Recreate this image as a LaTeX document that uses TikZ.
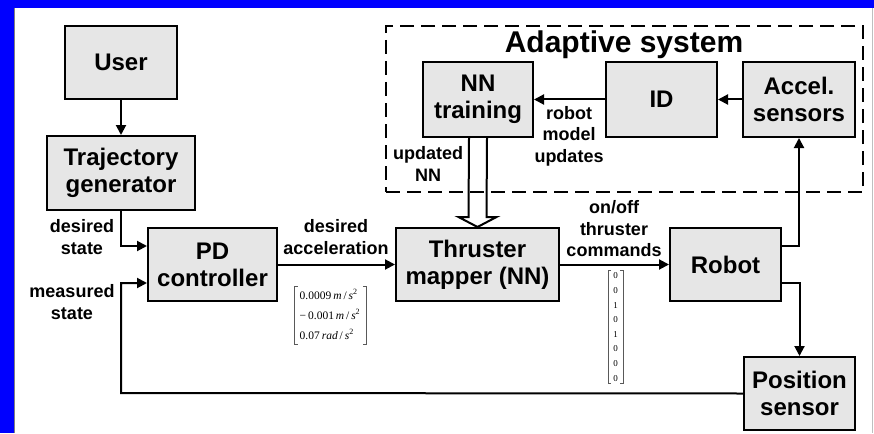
\documentclass[tikz,border=0pt]{standalone}
\usepackage{fontspec}
\setmainfont{Liberation Sans}
\newfontfamily\mtxfont{Liberation Serif}
\usetikzlibrary{arrows.meta}
\definecolor{boxfill}{RGB}{230,230,230}
\definecolor{frameblue}{RGB}{0,0,255}
\tikzset{
  block/.style={draw, line width=2pt, fill=boxfill, align=center,
    font=\fontsize{24}{27}\selectfont\bfseries, inner sep=0pt},
  lbl/.style={align=center, font=\fontsize{18}{21.5}\selectfont\bfseries, inner sep=0pt},
  arr/.style={line width=2pt, -{Triangle[length=10pt,width=10pt]}},
  link/.style={line width=2pt},
  brk/.style={draw=gray!70!black, line width=0.6pt},
  groupbox/.style={draw, line width=2pt, dash pattern=on 14pt off 7pt}
}
\begin{document}
\begin{tikzpicture}[x=1pt,y=-1pt]
\useasboundingbox (0,0) rectangle (874,433);
% frame
\fill[frameblue] (0,0) rectangle (874,8);
\fill[frameblue] (0,0) rectangle (14,433);
\draw[gray, line width=1pt] (14,8) -- (14,433);
\draw[gray!50, line width=1pt] (872,8) -- (872,433);

% adaptive system group
\node[groupbox, minimum width=477pt, minimum height=166pt] (adapt) at (624.5,109) {};
\node[anchor=base, font=\fontsize{30}{34}\selectfont\bfseries, inner sep=0pt] (adtitle) at (624,53) {Adaptive system};

% blocks
\node[block, minimum width=112pt, minimum height=73pt] (user) at (121,62.5) {User};
\node[block, minimum width=148pt, minimum height=74pt] (traj) at (121,173) {Trajectory\\generator};
\node[block, minimum width=129pt, minimum height=73pt] (pd) at (212.5,264.5) {PD\\controller};
\node[block, minimum width=163pt, minimum height=73pt] (thr) at (477.5,264.5) {Thruster\\mapper (NN)};
\node[block, minimum width=111pt, minimum height=73pt] (robot) at (725.5,264.5) {Robot};
\node[block, minimum width=111pt, minimum height=73pt] (pos) at (799.5,393.5) {Position\\sensor};
\node[block, minimum width=110pt, minimum height=75pt] (nnt) at (478,99.5) {NN\\training};
\node[block, minimum width=111pt, minimum height=75pt] (id) at (661.5,99.5) {ID};
\node[block, minimum width=112pt, minimum height=75pt] (acc) at (799,99.5) {Accel.\\sensors};

% labels
\node[lbl] (l1) at (82,237) {desired\\state};
\node[lbl] (l2) at (72,302) {measured\\state};
\node[lbl] (l3) at (336,237) {desired\\acceleration};
\node[lbl] (l4) at (614,229) {on/off\\thruster\\commands};
\node[lbl] (l5) at (569,136) {robot\\model\\updates};
\node[lbl] (l6) at (428,164) {updated\\NN};

% connectors
\draw[arr] (user) -- (traj);
\draw[arr] (traj.south) |- ([yshift=18.5pt]pd.west);
\coordinate (fb) at (121,393);
\draw[arr] (pos.west) -- (fb) |- ([yshift=-18.5pt]pd.west);
\draw[arr] (pd) -- (thr);
\draw[arr] (thr) -- (robot);
\draw[arr] ([yshift=18.5pt]robot.east) -| (acc.south);
\draw[arr] ([yshift=-18.5pt]robot.east) -| (pos.north);
\draw[arr] (acc) -- (id);
\draw[arr] (id) -- (nnt);
% hollow arrow NN training -> thruster mapper
\draw[line width=2pt, line join=miter]
  ([xshift=-9pt]nnt.south) -- ([xshift=-9pt,yshift=10pt]thr.north)
  -- ([xshift=-19pt,yshift=10pt]thr.north) -- (thr.north)
  -- ([xshift=19pt,yshift=10pt]thr.north) -- ([xshift=9pt,yshift=10pt]thr.north)
  -- ([xshift=9pt]nnt.south);

% matrices
\node[inner sep=0pt, font=\mtxfont\fontsize{11.5}{20}\selectfont] (accvec) at (330,315)
  {\begin{tabular}{@{}l@{}}0.0009\,\textit{m}\,/\,\textit{s}\textsuperscript{2}\\
   −\,0.001\,\textit{m}\,/\,\textit{s}\textsuperscript{2}\\
   0.07\,\textit{rad}\,/\,\textit{s}\textsuperscript{2}\end{tabular}};
\draw[brk] ([xshift=-2pt,yshift=-1pt]accvec.north west) -- ([xshift=-5pt,yshift=-1pt]accvec.north west)
  -- ([xshift=-5pt,yshift=1pt]accvec.south west) -- ([xshift=-2pt,yshift=1pt]accvec.south west);
\draw[brk] ([xshift=3pt,yshift=-1pt]accvec.north east) -- ([xshift=6pt,yshift=-1pt]accvec.north east)
  -- ([xshift=6pt,yshift=1pt]accvec.south east) -- ([xshift=3pt,yshift=1pt]accvec.south east);

\node[inner sep=0pt, align=center, font=\mtxfont\fontsize{9}{14.6}\selectfont] (cmdvec) at (615.5,327)
  {0\\0\\1\\0\\1\\0\\0\\0};
\draw[brk] ([xshift=-2pt,yshift=2pt]cmdvec.north west) -- ([xshift=-5pt,yshift=2pt]cmdvec.north west)
  -- ([xshift=-5pt,yshift=-2pt]cmdvec.south west) -- ([xshift=-2pt,yshift=-2pt]cmdvec.south west);
\draw[brk] ([xshift=2pt,yshift=2pt]cmdvec.north east) -- ([xshift=5pt,yshift=2pt]cmdvec.north east)
  -- ([xshift=5pt,yshift=-2pt]cmdvec.south east) -- ([xshift=2pt,yshift=-2pt]cmdvec.south east);
\end{tikzpicture}
\end{document}
